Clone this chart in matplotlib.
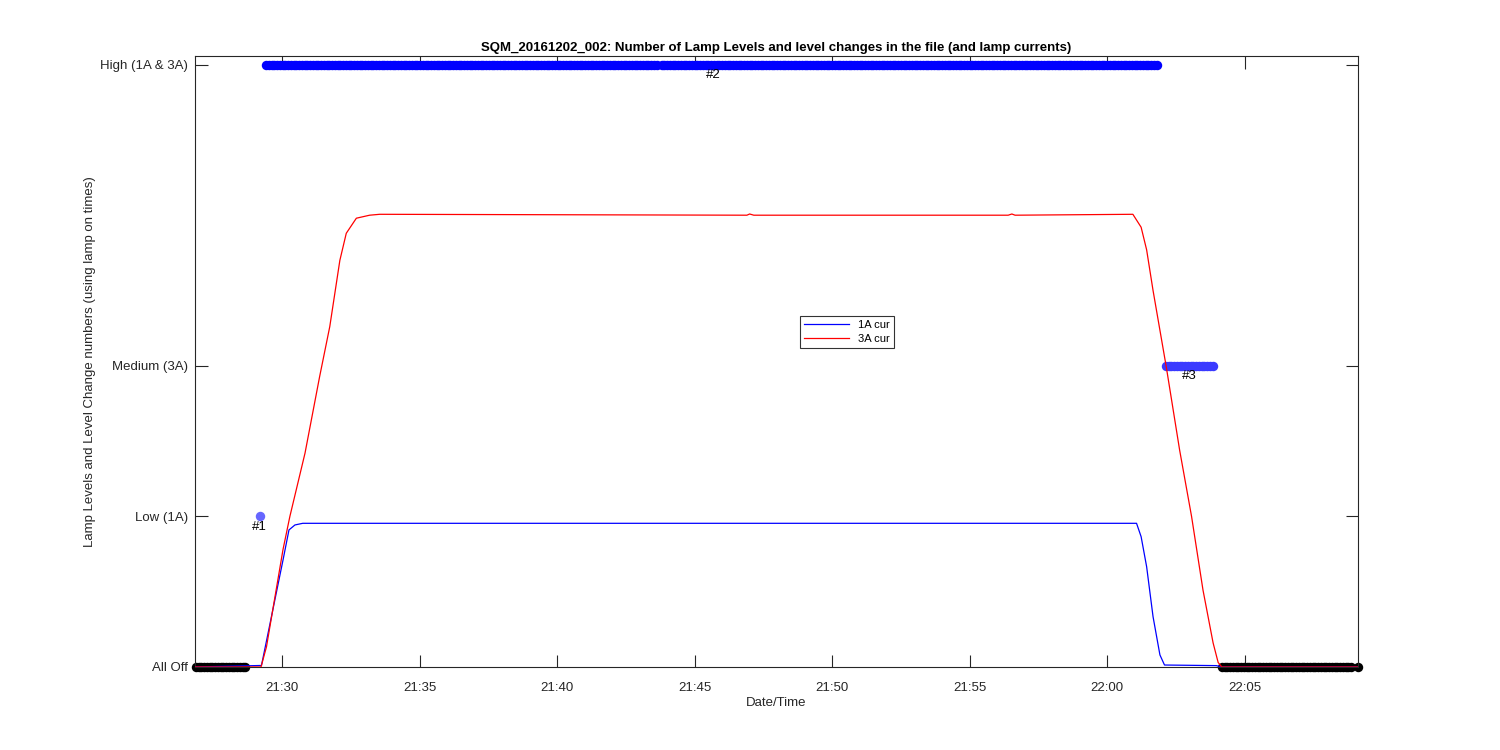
import numpy as np
import pandas as pd
import matplotlib
matplotlib.use('Agg')
import matplotlib.pyplot as plt
import matplotlib.dates as mdates

DAY = '2016-12-02 '

# lamp currents (scaled onto the level axis)
cur1_times = ['21:26:50', '21:29:15', '21:30:02', '21:30:15', '21:30:28', '21:30:45',
              '22:01:04', '22:01:14', '22:01:26', '22:01:40', '22:01:55', '22:02:05',
              '22:03:58', '22:04:10', '22:09:07']
cur1_vals = [0.0, 0.01, 0.71, 0.91, 0.943, 0.954,
             0.954, 0.865, 0.666, 0.334, 0.08, 0.013,
             0.009, 0.0, 0.0]

cur3_times = ['21:26:50', '21:29:14', '21:29:26', '21:30:02', '21:30:17', '21:30:50',
              '21:31:22', '21:31:44', '21:32:06', '21:32:20', '21:32:42', '21:33:11',
              '21:33:33', '21:46:54', '21:47:00', '21:47:09', '21:56:24', '21:56:32',
              '21:56:39', '22:00:56', '22:01:14', '22:01:26', '22:01:40', '22:02:09',
              '22:02:38', '22:03:04', '22:03:29', '22:03:51', '22:04:02', '22:04:10',
              '22:09:07']
cur3_vals = [0.0, 0.0, 0.135, 0.78, 1.0, 1.42,
             1.93, 2.26, 2.70, 2.88, 2.98, 3.0,
             3.006, 3.0, 3.008, 3.0, 3.0, 3.008,
             3.0, 3.006, 2.92, 2.77, 2.50, 1.99,
             1.44, 1.0, 0.51, 0.16, 0.03, 0.0,
             0.0]

# lamp level segments (sample every few seconds)
seg_start = ['21:26:52', '21:29:11', '21:29:25', '21:43:48', '22:02:08', '22:04:10', '22:09:07']
seg_end = ['21:28:43', '21:29:11', '21:43:38', '22:01:50', '22:03:52', '22:08:56', '22:09:07']
seg_level = [0, 1, 4, 4, 2, 0, 0]
seg_color = ['black', '#6666ff', '#0000ff', '#0000ff', '#3a3aff', 'black', 'black']
sample_step = 6  # seconds

change_labels = ['#1', '#2', '#3']
change_times = ['21:29:11', '21:45:40', '22:03:00']
change_levels = [1, 4, 2]

ytick_vals = [0, 1, 2, 4]
ytick_labels = ['All Off', 'Low (1A)', 'Medium (3A)', 'High (1A & 3A)']


def to_dt(times):
    return pd.to_datetime([DAY + t for t in times])


plt.rcParams['font.family'] = ['Liberation Sans', 'DejaVu Sans']
fig = plt.figure(figsize=(15, 7.5), dpi=100)
ax = fig.add_axes([0.13, 0.1107, 0.7753, 0.814])

for s, e, lev, c in zip(seg_start, seg_end, seg_level, seg_color):
    t0 = pd.Timestamp(DAY + s)
    t1 = pd.Timestamp(DAY + e)
    n = int((t1 - t0).total_seconds() // sample_step) + 1
    ts = [t0 + pd.Timedelta(seconds=sample_step * i) for i in range(n)]
    ax.plot(ts, [lev] * len(ts), 'o', color=c, markersize=6.8, markeredgewidth=0,
            clip_on=False, zorder=2)

ax.plot(to_dt(cur1_times), cur1_vals, color='#0000ff', lw=0.9, label='1A cur', zorder=3)
ax.plot(to_dt(cur3_times), cur3_vals, color='#ff0000', lw=0.9, label='3A cur', zorder=4)

for lab, t, lev in zip(change_labels, change_times, change_levels):
    ax.annotate(lab, (pd.Timestamp(DAY + t), lev), xytext=(0, -3), textcoords='offset points',
                ha='center', va='top', fontsize=9.5, color='black')

ax.set_xlim(pd.Timestamp(DAY + '21:26:50'), pd.Timestamp(DAY + '22:09:07'))
ax.set_ylim(0, 4.054)
ax.set_yticks(ytick_vals)
ax.set_yticklabels(ytick_labels)
ax.xaxis.set_major_locator(mdates.MinuteLocator(byminute=range(0, 60, 5)))
ax.xaxis.set_major_formatter(mdates.DateFormatter('%H:%M'))

ax.tick_params(direction='in', length=9, width=0.8, top=True, right=True,
               labelsize=9.5, colors='#262626')
ax.tick_params(axis='x', pad=11)
ax.tick_params(axis='y', pad=5)
for sp in ax.spines.values():
    sp.set_color('#262626')
    sp.set_linewidth(0.8)

ax.set_xlabel('Date/Time', fontsize=9.5, color='#262626', labelpad=2)
ax.set_ylabel('Lamp Levels and Level Change numbers (using lamp on times)',
              fontsize=9.5, color='#262626', labelpad=3)
ax.set_title('SQM_20161202_002: Number of Lamp Levels and level changes in the file (and lamp currents)',
             fontsize=9.5, fontweight='bold', pad=4)

leg = ax.legend(loc='upper left', bbox_to_anchor=(0.52, 0.575), fontsize=8,
                frameon=True, fancybox=False, edgecolor='black', handlelength=4.0,
                borderpad=0.4, labelspacing=0.3, handletextpad=0.8, borderaxespad=0)
leg.get_frame().set_linewidth(0.8)

fig.savefig('out.png', dpi=100)
